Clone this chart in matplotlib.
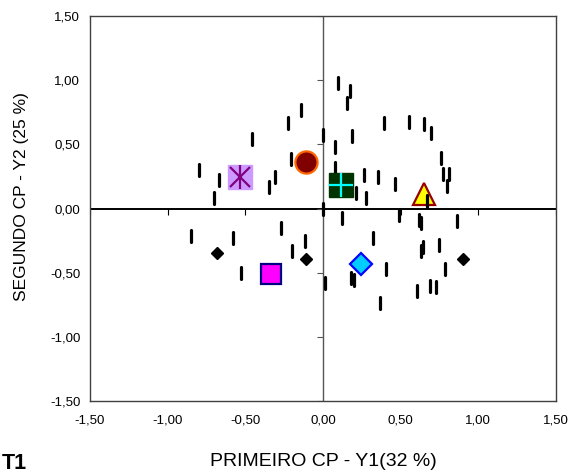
import matplotlib.pyplot as plt
from matplotlib.markers import MarkerStyle

plt.rcParams['font.family'] = ['Liberation Sans', 'DejaVu Sans']

# escores das variaveis (tracos pretos)
var_x = [-0.80, -0.67, -0.70, -0.46, -0.227, -0.142, -0.208, -0.311, -0.348,
         0.0, 0.0, -0.85, -0.58, -0.27, -0.116, -0.20, -0.53, 0.015,
         0.094, 0.176, 0.152, 0.185, 0.079, 0.393, 0.556, 0.65, 0.695,
         0.758, 0.775, 0.811, 0.798, 0.075, 0.21, 0.262, 0.275, 0.354,
         0.464, 0.672, 0.124, 0.489, 0.618, 0.629, 0.861, 0.324,
         0.646, 0.633, 0.749, 0.18, 0.20, 0.408, 0.786, 0.605, 0.687,
         0.728, 0.367]
var_y = [0.30, 0.22, 0.08, 0.54, 0.668, 0.77, 0.387, 0.244, 0.171,
         0.57, 0.0, -0.216, -0.23, -0.15, -0.25, -0.33, -0.50, -0.577,
         0.977, 0.917, 0.826, 0.566, 0.478, 0.668, 0.673, 0.657, 0.592,
         0.392, 0.267, 0.267, 0.177, 0.314, 0.12, 0.262, 0.083, 0.247,
         0.192, 0.062, -0.075, -0.05, -0.088, -0.111, -0.094, -0.23,
         -0.30, -0.333, -0.288, -0.538, -0.556, -0.47, -0.473, -0.639, -0.605,
         -0.613, -0.733]

# grupos / tratamentos
ast_x, ast_y = -0.534, 0.244
circ_x, circ_y = -0.109, 0.361
gsq_x, gsq_y = 0.116, 0.187
tri_x, tri_y = 0.648, 0.115
msq_x, msq_y = -0.333, -0.512
cdia_x, cdia_y = 0.247, -0.431
bdia_x = [-0.68, -0.109, 0.90]
bdia_y = [-0.345, -0.39, -0.39]

ticks = [-1.5, -1.0, -0.5, 0.0, 0.5, 1.0, 1.5]
tick_labels = ['-1,50', '-1,00', '-0,50', '0,00', '0,50', '1,00', '1,50']

fig = plt.figure(figsize=(5.71, 4.75), dpi=100)
ax = fig.add_axes([0.1576, 0.1558, 0.8161, 0.8105])
ax.set_xlim(-1.5, 1.5)
ax.set_ylim(-1.5, 1.5)

for s in ax.spines.values():
    s.set_color('#404040')
    s.set_linewidth(1.0)

ax.set_xticks(ticks)
ax.set_xticklabels(tick_labels)
ax.set_yticks(ticks)
ax.set_yticklabels(tick_labels)
ax.tick_params(length=0, labelsize=9.5)
ax.tick_params(axis='x', pad=10)
ax.tick_params(axis='y', pad=7)

# eixos cruzando na origem
ax.axhline(0, color='black', lw=1.4, zorder=1)
ax.axvline(0, color='#555555', lw=1.0, zorder=1)
ax.plot(ticks, [0] * len(ticks), ls='none', marker=3, ms=4, color='black', mew=0.8, zorder=1)
ax.plot([0] * len(ticks), ticks, ls='none', marker=0, ms=4, color='#555555', mew=0.8, zorder=1)

dash = MarkerStyle('|', capstyle='round')
ax.plot(var_x, var_y, ls='none', marker=dash, ms=8, mew=2.3, color='black', zorder=3)

ax.plot(ast_x, ast_y, marker='s', ms=17, mfc='#CC99FF', mec='#CC99FF', ls='none', zorder=4)
ax.plot(ast_x, ast_y, marker='x', ms=15, mew=1.6, color='#800080', ls='none', zorder=5)
ax.plot(ast_x, ast_y, marker='|', ms=17, mew=1.6, color='#800080', ls='none', zorder=5)

ax.plot(circ_x, circ_y, marker='o', ms=16, mfc='#800000', mec='#FF6600', mew=1.6, ls='none', zorder=4)

ax.plot(gsq_x, gsq_y, marker='s', ms=17, mfc='#003300', mec='#003300', ls='none', zorder=4)
ax.plot(gsq_x, gsq_y, marker='+', ms=17, mew=1.6, color='#00FFFF', ls='none', zorder=5)

ax.plot(tri_x, tri_y, marker='^', ms=16, mfc='#FFFF00', mec='#990000', mew=1.6, ls='none', zorder=2)

ax.plot(msq_x, msq_y, marker='s', ms=15, mfc='#FF00FF', mec='#000080', mew=1.6, ls='none', zorder=4)

ax.plot(cdia_x, cdia_y, marker='D', ms=11, mfc='#00CCFF', mec='#0000FF', mew=1.6, ls='none', zorder=4)

ax.plot(bdia_x, bdia_y, marker='D', ms=6, color='black', ls='none', zorder=4)

ax.set_xlabel('PRIMEIRO CP - Y1(32 %)', fontsize=14, va='center')
ax.xaxis.set_label_coords(0.5, -0.158)
ax.set_ylabel('SEGUNDO CP - Y2 (25 %)', fontsize=12.5, va='center')
ax.yaxis.set_label_coords(-0.146, 0.53)

fig.text(0.003, 0.003, 'T1', fontsize=15.5, fontweight='bold', ha='left', va='bottom')

fig.savefig('out.png', dpi=100)
